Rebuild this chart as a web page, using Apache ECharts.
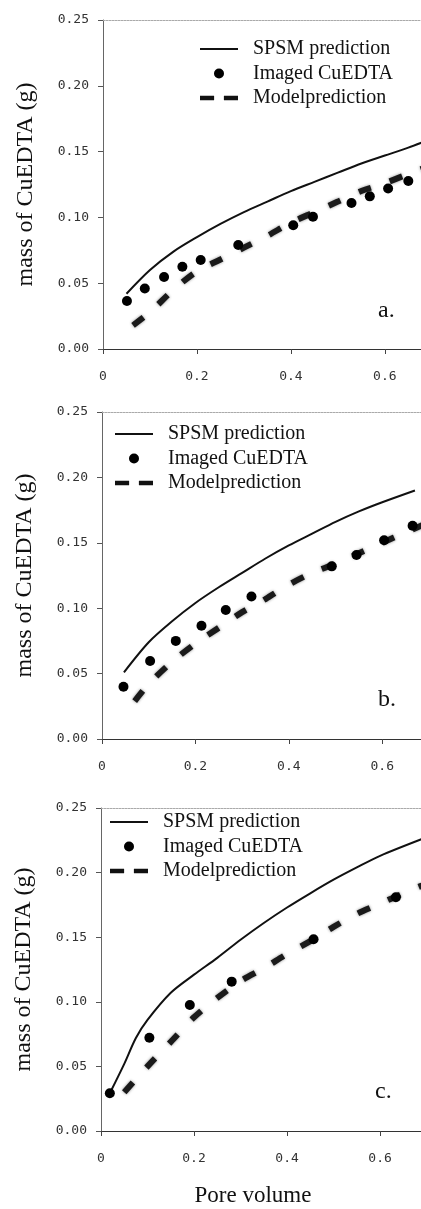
<!DOCTYPE html>
<html>
<head>
<meta charset="utf-8">
<script src="https://cdn.jsdelivr.net/npm/echarts@6/dist/echarts.min.js"></script>
<style>
  html, body { margin: 0; padding: 0; background: #fff; }
  #main { width: 421px; height: 1209px; }
</style>
</head>
<body>
<div id="main"></div>
<script>
// 数据 (pore volume, mass of CuEDTA g)
var spsmA = [[0.05, 0.042], [0.10, 0.060], [0.15, 0.074], [0.20, 0.085], [0.25, 0.095], [0.30, 0.104], [0.35, 0.112],
  [0.40, 0.120], [0.45, 0.127], [0.50, 0.134], [0.55, 0.141], [0.60, 0.147], [0.65, 0.153], [0.68, 0.157]];
var imagedA = [[0.051, 0.0365], [0.089, 0.046], [0.130, 0.0547], [0.169, 0.0625], [0.208, 0.0676], [0.288, 0.079],
  [0.405, 0.094], [0.447, 0.1005], [0.529, 0.111], [0.568, 0.116], [0.607, 0.122], [0.650, 0.1277]];
var modelA = [[0.064, 0.018], [0.10, 0.028], [0.15, 0.045], [0.20, 0.059], [0.25, 0.068], [0.30, 0.077], [0.35, 0.086],
  [0.40, 0.096], [0.45, 0.104], [0.50, 0.112], [0.55, 0.120], [0.60, 0.126], [0.65, 0.133], [0.68, 0.137]];

var spsmB = [[0.047, 0.051], [0.10, 0.074], [0.15, 0.090], [0.20, 0.104], [0.25, 0.116], [0.30, 0.127], [0.35, 0.138],
  [0.40, 0.148], [0.45, 0.157], [0.50, 0.166], [0.55, 0.174], [0.60, 0.181], [0.67, 0.190]];
var imagedB = [[0.046, 0.040], [0.103, 0.0596], [0.158, 0.075], [0.213, 0.0866], [0.265, 0.0986], [0.32, 0.109],
  [0.492, 0.132], [0.545, 0.1407], [0.604, 0.152], [0.665, 0.163]];
var modelB = [[0.07, 0.029], [0.10, 0.042], [0.15, 0.059], [0.20, 0.073], [0.25, 0.085], [0.30, 0.097], [0.35, 0.107],
  [0.40, 0.118], [0.45, 0.127], [0.50, 0.134], [0.55, 0.142], [0.60, 0.150], [0.65, 0.158], [0.69, 0.164]];

var spsmC = [[0.02, 0.030], [0.05, 0.052], [0.075, 0.072], [0.10, 0.086], [0.15, 0.107], [0.20, 0.121], [0.25, 0.134],
  [0.30, 0.148], [0.35, 0.161], [0.40, 0.173], [0.45, 0.184], [0.50, 0.1945], [0.55, 0.204], [0.60, 0.213], [0.69, 0.226]];
var imagedC = [[0.019, 0.0292], [0.104, 0.0722], [0.191, 0.0975], [0.281, 0.1156], [0.457, 0.1484], [0.634, 0.1809]];
var modelC = [[0.05, 0.030], [0.10, 0.050], [0.15, 0.069], [0.20, 0.088], [0.25, 0.103], [0.30, 0.116], [0.35, 0.126],
  [0.40, 0.137], [0.45, 0.147], [0.50, 0.158], [0.55, 0.168], [0.60, 0.176], [0.65, 0.184], [0.69, 0.190]];

var xTicks = [0, 0.2, 0.4, 0.6];
var names = ['SPSM prediction', 'Imaged CuEDTA', 'Modelprediction'];
var panelLabels = ['a.', 'b.', 'c.'];

var myChart = echarts.init(document.getElementById('main'));

var serif = 'Liberation Serif';
var panels = [
  { left: 103, top: 20, height: 329, xmax: 0.677, lg: [200, 38], lab: [378, 299], data: [spsmA, imagedA, modelA] },
  { left: 102, top: 412, height: 327, xmax: 0.683, lg: [115, 423], lab: [378, 688], data: [spsmB, imagedB, modelB] },
  { left: 101, top: 808, height: 323, xmax: 0.688, lg: [110, 811], lab: [375, 1080], data: [spsmC, imagedC, modelC] }
];

var grid = [], xAxis = [], yAxis = [], series = [], legend = [], title = [];

panels.forEach(function (p, i) {
  grid.push({ left: p.left, top: p.top, width: 421 - p.left, height: p.height, outerBoundsMode: 'none' });
  xAxis.push({
    type: 'value', gridIndex: i, min: 0, max: p.xmax, interval: 0.2,
    axisLine: { lineStyle: { color: '#333', width: 1 } },
    axisTick: { show: true, inside: false, length: 5, lineStyle: { color: '#444' } },
    axisLabel: {
      showMaxLabel: false, margin: 21, color: '#333', fontSize: 13, fontFamily: 'DejaVu Sans Mono',
      formatter: function (v) {
        var r = Math.round(v * 10) / 10;
        return xTicks.indexOf(r) >= 0 ? String(r) : '';
      }
    },
    splitLine: { show: false },
    name: i === 2 ? 'Pore volume' : '',
    nameLocation: 'middle', nameGap: 53,
    nameTextStyle: { fontFamily: serif, fontSize: 23, color: '#111', padding: [0, 16, 0, 0] }
  });
  yAxis.push({
    type: 'value', gridIndex: i, min: 0, max: 0.25, interval: 0.05,
    axisLine: { show: true, lineStyle: { color: '#666', width: 1 } },
    axisTick: { show: true, inside: false, length: 5, lineStyle: { color: '#555' } },
    axisLabel: {
      margin: 14, color: '#333', fontSize: 13, fontFamily: 'DejaVu Sans Mono',
      formatter: function (v) { return v.toFixed(2); }
    },
    splitLine: { show: false },
    name: 'mass of CuEDTA (g)',
    nameLocation: 'middle', nameGap: 65,
    nameTextStyle: { fontFamily: serif, fontSize: 24, color: '#111' }
  });
  series.push({
    name: names[0], type: 'line', xAxisIndex: i, yAxisIndex: i, data: p.data[0],
    symbol: 'none', smooth: 0.3, z: 3,
    lineStyle: { color: '#111', width: 2 }, itemStyle: { color: '#111' }
  });
  series.push({
    name: names[1], type: 'scatter', xAxisIndex: i, yAxisIndex: i, data: p.data[1],
    symbol: 'circle', symbolSize: 10, z: 5,
    itemStyle: { color: '#000', opacity: 1 }
  });
  series.push({
    name: names[2], type: 'line', xAxisIndex: i, yAxisIndex: i, data: p.data[2],
    symbol: 'none', smooth: 0.3, z: 4,
    lineStyle: { color: '#1a1a1a', width: 6, type: [13, 20], cap: 'butt', shadowBlur: 3, shadowColor: 'rgba(0,0,0,0.45)' },
    itemStyle: { color: '#111' }
  });
  legend.push({
    left: p.lg[0], top: p.lg[1], orient: 'vertical', itemGap: 2.5,
    itemWidth: 38, itemHeight: 10, padding: 0, selectedMode: false,
    itemStyle: { borderWidth: 0 },
    textStyle: { fontFamily: serif, fontSize: 20, color: '#111', lineHeight: 22, padding: [0, 0, 0, 10] },
    data: [
      { name: names[0], icon: 'path://M0,0H38V2H0Z' },
      { name: names[1], icon: 'circle', itemStyle: { color: '#000', opacity: 1 } },
      { name: names[2], icon: 'path://M0,0H13V4H0Z M22,0H35V4H22Z' }
    ]
  });
  title.push({
    text: panelLabels[i], left: p.lab[0], top: p.lab[1], padding: 0,
    textStyle: { fontFamily: serif, fontSize: 24, fontWeight: 'normal', color: '#111' }
  });
});

// top frame lines
panels.forEach(function (p, i) {
  xAxis.push({
    type: 'value', gridIndex: i, position: 'top', min: 0, max: p.xmax,
    axisLine: { show: true, lineStyle: { color: '#aaa', width: 1, type: [2, 1] } },
    axisTick: { show: false }, axisLabel: { show: false }, splitLine: { show: false }
  });
});

var option = {
  backgroundColor: '#fff',
  animation: false,
  title: title,
  legend: legend,
  grid: grid,
  xAxis: xAxis,
  yAxis: yAxis,
  series: series
};

myChart.setOption(option);
</script>
</body>
</html>
